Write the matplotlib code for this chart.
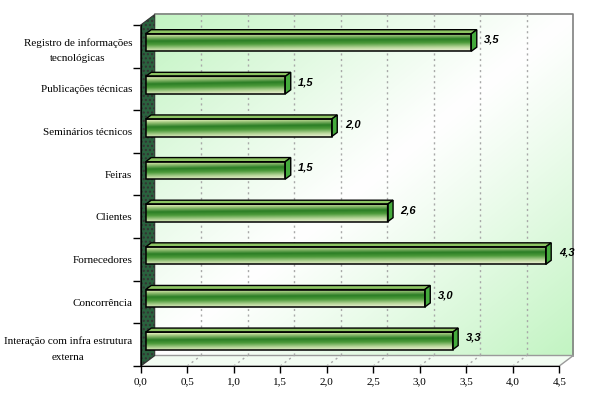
import matplotlib
matplotlib.use("Agg")
import matplotlib.pyplot as plt
import numpy as np
from matplotlib.patches import Polygon
from matplotlib.colors import LinearSegmentedColormap, to_rgb

# ---------------- data ----------------
categories = ["Registro de informações\ntecnológicas", "Publicações técnicas",
              "Seminários técnicos", "Feiras", "Clientes", "Fornecedores",
              "Concorrência", "Interação com infra estrutura\nexterna"]
values = [3.5, 1.5, 2.0, 1.5, 2.6, 4.3, 3.0, 3.3]
value_labels = ["3,5", "1,5", "2,0", "1,5", "2,6", "4,3", "3,0", "3,3"]
xticks = [0.0, 0.5, 1.0, 1.5, 2.0, 2.5, 3.0, 3.5, 4.0, 4.5]
xtick_labels = ["0,0", "0,5", "1,0", "1,5", "2,0", "2,5", "3,0", "3,5", "4,0", "4,5"]

# ---------------- layout ----------------
W, H = 600, 396
fig = plt.figure(figsize=(W / 100, H / 100), dpi=100)
fig.patch.set_facecolor("white")
px0, px1 = 140.7, 559.3      # front plane x in pixels
py0, py1 = 25.0, 366.0       # front plane y in pixels (from top)
ax = fig.add_axes([px0 / W, (H - py1) / H, (px1 - px0) / W, (py1 - py0) / H])
XMAX = 4.5
N = len(categories)
ux = XMAX / (px1 - px0)      # data units per pixel
uy = N / (py1 - py0)
DX, DY = 14 * ux, 10.5 * uy  # depth offsets
ax.set_facecolor("none")

# ---------------- back wall gradient ----------------
ny, nx = 200, 300
xf = np.linspace(0, 1, nx)[None, :]
yf = np.linspace(0, 1, ny)[:, None]
s = np.clip(np.abs(xf + yf - 1.0), 0, 1) ** 1.1
white = np.array([1.0, 1.0, 1.0])
green = np.array(to_rgb("#c2f4c2"))
img = white[None, None, :] * (1 - s[..., None]) + green[None, None, :] * s[..., None]
ax.imshow(img, extent=(DX, XMAX + DX, N - DY, -DY), aspect="auto",
          zorder=0, clip_on=False, interpolation="bilinear")
ax.plot([DX, XMAX + DX, XMAX + DX], [-DY, -DY, N - DY], color="#808080",
        lw=1.2, clip_on=False, zorder=1)

# floor
floor = Polygon([(0, N), (DX, N - DY), (XMAX + DX, N - DY), (XMAX, N)],
                closed=True, facecolor="#f2fcf2", edgecolor="#9a9a9a", lw=1.0,
                clip_on=False, zorder=1)
ax.add_patch(floor)

# left wall
plt.rcParams["hatch.color"] = "#74a482"
lwall = Polygon([(0, 0), (DX, -DY), (DX, N - DY), (0, N)], closed=True,
                facecolor="#2a623e", edgecolor="#333333", lw=0.8,
                hatch="....", clip_on=False, zorder=2)
ax.add_patch(lwall)

# gridlines on back wall and floor
for xv in xticks[1:-1]:
    ax.plot([xv + DX, xv + DX], [-DY, N - DY], color="#a8a8a8", lw=1.0,
            ls=(0, (1.5, 2.5)), clip_on=False, zorder=1.5)
    ax.plot([xv, xv + DX], [N, N - DY], color="#a8a8a8", lw=1.0,
            ls=(0, (1.5, 2.5)), clip_on=False, zorder=1.5)

# ---------------- bars ----------------
f, b = 5.0 / 14, 10.5 / 14
bh = 0.41
ycent = [i + 0.5 for i in range(N)]
front_cmap = LinearSegmentedColormap.from_list("bar", [
    (0.00, "#e2efbc"), (0.12, "#a4c980"), (0.38, "#2a7d24"),
    (0.58, "#4c9a3a"), (0.84, "#b8d69a"), (1.00, "#e2ecca")])
grad = np.linspace(0, 1, 100)[:, None] + 0.12 * (np.linspace(-0.5, 0.5, 200)[None, :])
grad = np.clip(grad, 0, 1)

bars = ax.barh([y - f * DY for y in ycent], values, height=bh, left=f * DX,
               color="none", edgecolor="black", lw=1.1, zorder=5)
for i, (rect, v) in enumerate(zip(bars, values)):
    yc = ycent[i] - f * DY
    top_f = yc - bh / 2
    bot_f = yc + bh / 2
    sh_x, sh_y = (b - f) * DX, (b - f) * DY
    x_l, x_r = f * DX, v + f * DX
    im = ax.imshow(grad, cmap=front_cmap, extent=(x_l, x_r, bot_f, top_f),
                   aspect="auto", zorder=4, interpolation="bilinear")
    im.set_clip_path(rect)
    top = Polygon([(x_l, top_f), (x_r, top_f), (x_r + sh_x, top_f - sh_y),
                   (x_l + sh_x, top_f - sh_y)], closed=True,
                  facecolor="#8cc462", edgecolor="black", lw=1.0, zorder=4.5,
                  clip_on=False)
    ax.add_patch(top)
    cap = Polygon([(x_r, top_f), (x_r + sh_x, top_f - sh_y),
                   (x_r + sh_x, bot_f - sh_y), (x_r, bot_f)], closed=True,
                  facecolor="#44aa3c", edgecolor="black", lw=1.0, zorder=4.5,
                  clip_on=False)
    ax.add_patch(cap)
    ax.text(v + 18 * ux, ycent[i] - 6.8 * uy, value_labels[i],
            fontsize=8, fontweight="bold", fontstyle="italic",
            family="Liberation Sans", ha="left", va="center", zorder=6)

# ---------------- axes ----------------
ax.set_xlim(0, XMAX)
ax.set_ylim(N, 0)
for sp in ["top", "right"]:
    ax.spines[sp].set_visible(False)
ax.spines["left"].set_zorder(7)
ax.spines["bottom"].set_zorder(7)
ax.set_xticks(xticks)
ax.set_xticklabels(xtick_labels, family="Liberation Serif", fontsize=8)
ax.tick_params(axis="x", direction="out", length=5, width=1, pad=3)
ax.set_yticks(range(N + 1))
ax.set_yticklabels([])
ax.tick_params(axis="y", which="major", direction="out", length=6, width=1)
ax.set_yticks(ycent, minor=True)
ax.set_yticklabels(categories, minor=True, family="Liberation Serif", fontsize=8,
                   multialignment="center", linespacing=1.95)
ax.tick_params(axis="y", which="minor", length=0, pad=6)

fig.savefig("out.png", dpi=100, facecolor="white")
